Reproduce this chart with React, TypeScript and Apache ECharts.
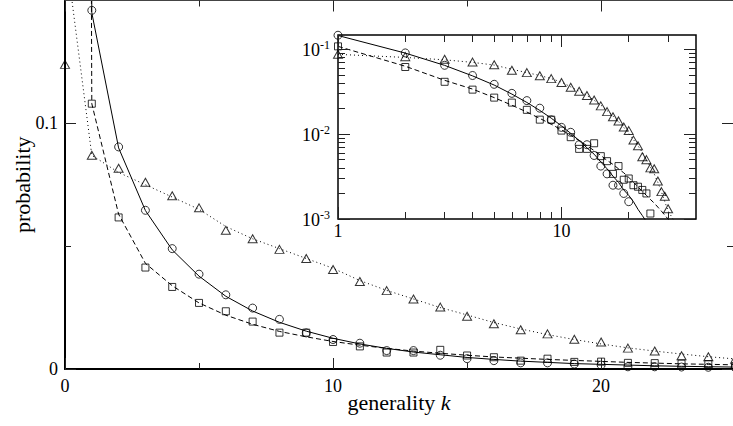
import React, { useEffect, useRef } from "react";
import * as echarts from "echarts";

const FONT = '"Liberation Serif", "Times New Roman", Times, serif';

// ---- marker data ----
const triangleK = [0, 1, 2, 3, 4, 5, 6, 7, 8, 9, 10, 11, 12, 13, 14, 15, 16, 17, 18, 19, 20, 21, 22, 23, 24, 25, 26, 27, 28, 29, 30];
const triangleVals = [0.124, 0.087, 0.0817, 0.076, 0.0705, 0.0656, 0.0565, 0.053, 0.0487, 0.045, 0.0405, 0.0356, 0.0319, 0.0285, 0.0252, 0.0215, 0.0184, 0.016, 0.0143, 0.0121, 0.011, 0.0085, 0.0073, 0.0054, 0.005, 0.004, 0.0039, 0.0028, 0.0021, 0.00185, 0.00132];

const circleK = [1, 2, 3, 4, 5, 6, 7, 8, 9, 10, 11, 12, 13, 14, 15, 16, 17, 18, 19, 20, 21, 22, 23, 24, 25];
const circleVals = [0.146, 0.0904, 0.0646, 0.049, 0.0386, 0.0302, 0.0248, 0.0202, 0.0147, 0.012, 0.0105, 0.0075, 0.0075, 0.0056, 0.0042, 0.0034, 0.0025, 0.0025, 0.002, 0.0016, 0.0009, 0.0009, 0.0008, 0.0007, 0.0006];

const squareK = [1, 2, 3, 4, 5, 6, 7, 8, 9, 10, 11, 12, 13, 14, 15, 16, 17, 18, 19, 20, 21, 22, 23, 24, 25];
const squareVals = [0.108, 0.0617, 0.0413, 0.0334, 0.0269, 0.0235, 0.0193, 0.0148, 0.0148, 0.011, 0.0092, 0.0067, 0.0067, 0.0078, 0.0055, 0.0048, 0.0034, 0.0042, 0.0029, 0.003, 0.0025, 0.0024, 0.0022, 0.002, 0.00116];

// ---- fitted curves ----
const solidK = [0, 1, 2, 3, 4, 5, 6, 7, 8, 9, 10, 11, 12, 13, 14, 15, 16, 17, 18, 19, 20, 21, 22, 23, 24, 25];
const solidVals = [3, 0.145, 0.09, 0.0645, 0.0485, 0.0378, 0.0296, 0.0236, 0.019, 0.0154, 0.0125, 0.0102, 0.0084, 0.0069, 0.0058, 0.0047, 0.0039, 0.0032, 0.0027, 0.0022, 0.0019, 0.0016, 0.0013, 0.0011, 0.00093, 0.00078];

const dashedK = [0, 1, 2, 3, 4, 5, 6, 7, 8, 9, 10, 11, 12, 13, 14, 15, 16, 17, 18, 19, 20, 21, 22, 23, 24, 25, 26, 27, 28, 29, 30, 31];
const dashedVals = [3, 0.108, 0.063, 0.043, 0.0339, 0.0269, 0.0219, 0.0182, 0.0153, 0.0131, 0.0112, 0.0097, 0.0084, 0.0073, 0.0064, 0.0056, 0.0049, 0.0044, 0.0039, 0.0035, 0.0031, 0.0027, 0.0024, 0.0021, 0.0019, 0.0017, 0.00154, 0.00138, 0.00124, 0.00111, 0.001, 0.0009];

const dottedK = [0, 1, 2, 3, 4, 5, 6, 7, 8, 9, 10, 11, 12, 13, 14, 15, 16, 17, 18, 19, 20, 21, 22, 23, 24, 25, 26, 27, 28, 29, 30, 31, 32, 33];
const dottedVals = [0.172, 0.087, 0.08, 0.075, 0.07, 0.065, 0.058, 0.053, 0.049, 0.045, 0.041, 0.036, 0.032, 0.0285, 0.025, 0.022, 0.0189, 0.0163, 0.014, 0.012, 0.0102, 0.0086, 0.0073, 0.0061, 0.005, 0.0041, 0.0034, 0.0027, 0.0021, 0.0016, 0.00125, 0.00108, 0.00094, 0.00082];

// ---- ticks ----
const mainXMajor = [0, 10, 20];
const mainXMinor = [5, 15];
const mainYMajor = [0, 0.1];
const mainYMinor = [0.05];
const insetXMajor = [1, 10];
const insetXMinor = [2, 3, 4, 5, 6, 7, 8, 9, 20, 30];
const insetYMajor = [0.001, 0.01, 0.1];
const insetYMinor = [0.002, 0.003, 0.004, 0.005, 0.006, 0.007, 0.008, 0.009, 0.02, 0.03, 0.04, 0.05, 0.06, 0.07, 0.08, 0.09];

const zip = (ks: number[], vs: number[]) => ks.map((k, i) => [k, vs[i]]);
const posOnly = (ks: number[], vs: number[]) => zip(ks, vs).filter((p) => p[0] > 0 && p[1] > 0);

export default function App() {
  const ref = useRef<HTMLDivElement>(null);

  useEffect(() => {
    if (!ref.current) return;
    const chart = echarts.init(ref.current, undefined, { renderer: "svg" });

    const tickStyle = { color: "#222", width: 1 };
    const labelStyle = { fontFamily: FONT, fontSize: 18, color: "#000" };
    const hiddenLine = { show: false, onZero: false };
    // the frame of the main plot ends just past the picture's right edge (k = 25 sits at ~735 px)
    const mainXMax = 24.92;

    const mainX = (extra: any) => ({
      gridIndex: 0, type: "value", min: 0, max: mainXMax, splitLine: { show: false }, z: 6, ...extra,
    });
    const mainY = (extra: any) => ({
      gridIndex: 0, type: "value", min: 0, max: 0.15, splitLine: { show: false }, z: 6, ...extra,
    });
    const insetX = (extra: any) => ({
      gridIndex: 1, type: "log", logBase: 10, min: 1, max: 40, splitLine: { show: false },
      axisLine: hiddenLine, z: 6, ...extra,
    });
    const insetY = (extra: any) => ({
      gridIndex: 1, type: "log", logBase: 10, min: 0.001, max: 0.147, splitLine: { show: false },
      axisLine: hiddenLine, z: 6, ...extra,
    });
    const noLabel = { show: false };

    const option: any = {
      animation: false,
      backgroundColor: "#fff",
      grid: [
        { left: 65, top: 0.5, width: 668, height: 368.5, containLabel: false, outerBoundsMode: "none" },
        {
          left: 338, top: 35, width: 358, height: 184, show: true, backgroundColor: "#fff",
          borderColor: "#000", borderWidth: 1.5, containLabel: false, outerBoundsMode: "none",
        },
      ],
      xAxis: [
        mainX({
          position: "bottom",
          axisLine: { show: true, onZero: false, lineStyle: { color: "#000", width: 2 } },
          axisTick: { show: true, inside: true, length: 11, customValues: mainXMajor, lineStyle: tickStyle },
          axisLabel: { ...labelStyle, customValues: mainXMajor, margin: 8 },
          name: "generality {i|k}",
          nameLocation: "middle",
          nameGap: 22,
          nameMoveOverlap: false,
          nameTextStyle: {
            fontFamily: FONT, fontSize: 22, color: "#000",
            rich: { i: { fontFamily: FONT, fontSize: 22, fontStyle: "italic", color: "#000" } },
          },
        }),
        mainX({
          position: "bottom",
          axisLine: hiddenLine,
          axisTick: { show: true, inside: true, length: 6, customValues: mainXMinor, lineStyle: tickStyle },
          axisLabel: noLabel,
        }),
        mainX({
          position: "top",
          axisLine: { show: true, onZero: false, lineStyle: { color: "#444", width: 1 } },
          axisTick: { show: true, inside: true, length: 11, customValues: mainXMajor, lineStyle: tickStyle },
          axisLabel: noLabel,
        }),
        mainX({
          position: "top",
          axisLine: hiddenLine,
          axisTick: { show: true, inside: true, length: 6, customValues: mainXMinor, lineStyle: tickStyle },
          axisLabel: noLabel,
        }),
        insetX({
          position: "bottom",
          axisTick: { show: true, inside: true, length: 12, customValues: insetXMajor, lineStyle: tickStyle },
          axisLabel: { ...labelStyle, customValues: insetXMajor, margin: 3 },
        }),
        insetX({
          position: "bottom",
          axisTick: { show: true, inside: true, length: 7, customValues: insetXMinor, lineStyle: tickStyle },
          axisLabel: noLabel,
        }),
        insetX({
          position: "top",
          axisTick: { show: true, inside: true, length: 12, customValues: insetXMajor, lineStyle: tickStyle },
          axisLabel: noLabel,
        }),
        insetX({
          position: "top",
          axisTick: { show: true, inside: true, length: 7, customValues: insetXMinor, lineStyle: tickStyle },
          axisLabel: noLabel,
        }),
      ],
      yAxis: [
        mainY({
          position: "left",
          axisLine: { show: true, onZero: false, lineStyle: { color: "#000", width: 2 } },
          axisTick: { show: true, inside: true, length: 11, customValues: mainYMajor, lineStyle: tickStyle },
          axisLabel: {
            ...labelStyle, customValues: mainYMajor, margin: 7,
            formatter: (v: number) => (v === 0 ? "0" : String(Math.round(v * 100) / 100)),
          },
          name: "probability",
          nameLocation: "middle",
          nameGap: 32,
          nameMoveOverlap: false,
          nameTextStyle: { fontFamily: FONT, fontSize: 22, color: "#000" },
        }),
        mainY({
          position: "left",
          axisLine: hiddenLine,
          axisTick: { show: true, inside: true, length: 6, customValues: mainYMinor, lineStyle: tickStyle },
          axisLabel: noLabel,
        }),
        mainY({
          position: "right",
          axisLine: hiddenLine,
          axisTick: { show: true, inside: true, length: 11, customValues: mainYMajor, lineStyle: tickStyle },
          axisLabel: noLabel,
        }),
        mainY({
          position: "right",
          axisLine: hiddenLine,
          axisTick: { show: true, inside: true, length: 6, customValues: mainYMinor, lineStyle: tickStyle },
          axisLabel: noLabel,
        }),
        insetY({
          position: "left",
          axisTick: { show: true, inside: true, length: 12, customValues: insetYMajor, lineStyle: tickStyle },
          axisLabel: {
            customValues: insetYMajor, margin: 8,
            formatter: (v: number) => `{b|10}{s|${Math.round(Math.log10(v))}}`,
            rich: {
              b: { fontFamily: FONT, fontSize: 18, color: "#000", verticalAlign: "bottom", lineHeight: 20 },
              s: { fontFamily: FONT, fontSize: 12, color: "#000", verticalAlign: "top", lineHeight: 12 },
            },
          },
        }),
        insetY({
          position: "left",
          axisTick: { show: true, inside: true, length: 7, customValues: insetYMinor, lineStyle: tickStyle },
          axisLabel: noLabel,
        }),
        insetY({
          position: "right",
          axisTick: { show: true, inside: true, length: 12, customValues: insetYMajor, lineStyle: tickStyle },
          axisLabel: noLabel,
        }),
        insetY({
          position: "right",
          axisTick: { show: true, inside: true, length: 7, customValues: insetYMinor, lineStyle: tickStyle },
          axisLabel: noLabel,
        }),
      ],
      series: [] as any[],
    };

    const hollow = { color: "rgba(0,0,0,0)", borderColor: "#000", borderWidth: 1 };
    const markerDefs = [
      { name: "triangles", ks: triangleK, vs: triangleVals, symbol: "triangle", size: [9, 8] },
      { name: "circles", ks: circleK, vs: circleVals, symbol: "circle", size: 8 },
      { name: "squares", ks: squareK, vs: squareVals, symbol: "rect", size: 7 },
    ];
    const lineDefs = [
      { name: "fit circles", ks: solidK, vs: solidVals, type: "solid" as any },
      { name: "fit squares", ks: dashedK, vs: dashedVals, type: [5, 3] as any },
      { name: "fit triangles", ks: dottedK, vs: dottedVals, type: [1, 3] as any },
    ];

    for (const l of lineDefs) {
      option.series.push({
        name: l.name, type: "line", xAxisIndex: 0, yAxisIndex: 0, data: zip(l.ks, l.vs),
        showSymbol: false, symbol: "none", clip: true, z: 2,
        lineStyle: { color: "#000", width: 1, type: l.type },
      });
      option.series.push({
        name: l.name + " (log)", type: "line", xAxisIndex: 4, yAxisIndex: 4, data: posOnly(l.ks, l.vs),
        showSymbol: false, symbol: "none", clip: true, z: 4,
        lineStyle: { color: "#000", width: 1, type: l.type },
      });
    }
    for (const m of markerDefs) {
      // main plot: every marker lies inside the value range; those past the right edge fall off the picture
      option.series.push({
        name: m.name, type: "scatter", xAxisIndex: 0, yAxisIndex: 0, data: zip(m.ks, m.vs),
        symbol: m.symbol, symbolSize: m.size, itemStyle: hollow, clip: false, z: 3,
      });
      option.series.push({
        name: m.name + " (log)", type: "scatter", xAxisIndex: 4, yAxisIndex: 4, data: posOnly(m.ks, m.vs),
        symbol: m.symbol, symbolSize: m.size, itemStyle: hollow, clip: true, z: 5,
      });
    }

    chart.setOption(option);
    return () => chart.dispose();
  }, []);

  return (
    <div
      ref={ref}
      style={{ position: "absolute", left: 0, top: 0, width: 733, height: 426, background: "#fff" }}
    />
  );
}
